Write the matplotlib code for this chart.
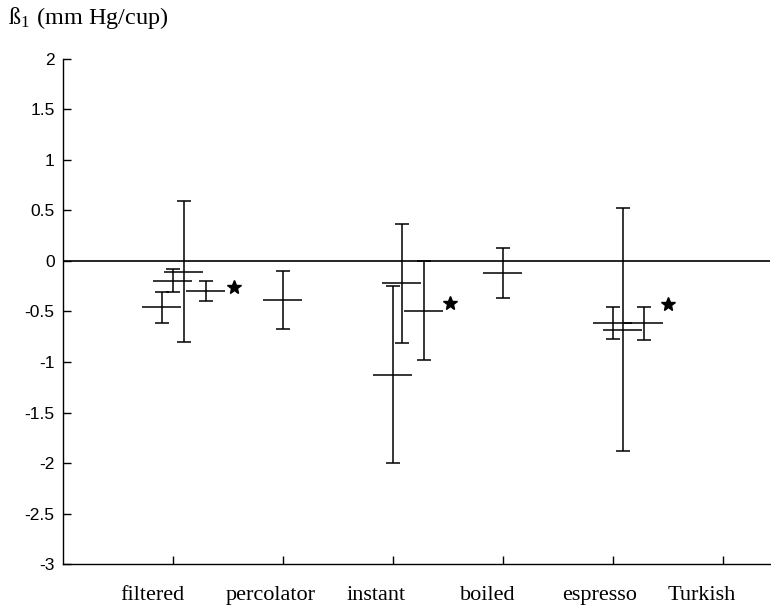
from matplotlib import pyplot as plt

# coffee types on the x axis
brew_types = ["filtered", "percolator", "instant", "boiled", "espresso", "Turkish"]
label_pos = [0.81, 1.89, 2.85, 3.86, 4.88, 5.81]
group_ticks = [1, 2, 3, 4, 5, 6]

# one entry per study: x position, mean beta1, lower and upper limit
study_x = [0.9, 1.0, 1.1, 1.3, 2.0, 3.0, 3.08, 3.28, 4.0, 5.0, 5.09, 5.28]
beta_mean = [-0.46, -0.20, -0.11, -0.30, -0.39, -1.13, -0.22, -0.50, -0.12, -0.61, -0.68, -0.61]
beta_low = [-0.61, -0.31, -0.80, -0.40, -0.67, -2.00, -0.81, -0.98, -0.37, -0.77, -1.88, -0.78]
beta_high = [-0.31, -0.08, 0.59, -0.20, -0.10, -0.25, 0.37, 0.0, 0.13, -0.46, 0.52, -0.46]

# significance stars
star_x = [1.555, 3.52, 5.50]
star_y = [-0.26, -0.42, -0.43]


fig = plt.figure(figsize=(7.71, 6.10), dpi=100)
ax = fig.add_axes([0.0817, 0.0754, 0.917, 0.8279])

# zero line
ax.axhline(0, color='black', linewidth=1.2, zorder=1)

# vertical CI bars with caps
err_lo = [m - l for m, l in zip(beta_mean, beta_low)]
err_hi = [h - m for m, h in zip(beta_mean, beta_high)]
ax.errorbar(study_x, beta_mean, yerr=[err_lo, err_hi], fmt='none',
            ecolor='black', elinewidth=1.1, capsize=5, capthick=1.1, zorder=2)

# horizontal mean marks
half_w = 0.177
ax.hlines(beta_mean, [x - half_w for x in study_x], [x + half_w for x in study_x],
          color='black', linewidth=1.1, zorder=2)

ax.plot(star_x, star_y, linestyle='none', marker='*', markersize=10,
        color='black', zorder=3)

ax.set_xlim(0, 6.43)
ax.set_ylim(-3, 2)

ax.spines['top'].set_visible(False)
ax.spines['right'].set_visible(False)
ax.spines['left'].set_linewidth(1.0)
ax.spines['bottom'].set_linewidth(1.0)

ax.set_yticks([2, 1.5, 1, 0.5, 0, -0.5, -1, -1.5, -2, -2.5, -3])
ax.set_yticklabels(['2', '1.5', '1', '0.5', '0', '-0.5', '-1', '-1.5', '-2', '-2.5', '-3'],
                   family='Liberation Sans', fontsize=12.5)
ax.tick_params(axis='y', direction='in', length=6, width=1.0, pad=6)

# major ticks without labels, category names on minor positions
ax.set_xticks(group_ticks)
ax.set_xticklabels([])
ax.tick_params(axis='x', which='major', direction='in', length=6, width=1.0)
ax.set_xticks(label_pos, minor=True)
ax.set_xticklabels(brew_types, minor=True, family='Liberation Serif', fontsize=16)
ax.tick_params(axis='x', which='minor', length=0, pad=16)

plt.rcParams['mathtext.fontset'] = 'stix'
fig.text(0.0104, 0.9705, 'ß$_\\mathregular{1}$ (mm Hg/cup)', family='Liberation Serif',
         fontsize=17.5, ha='left', va='center')

fig.savefig('out.png', dpi=100)
